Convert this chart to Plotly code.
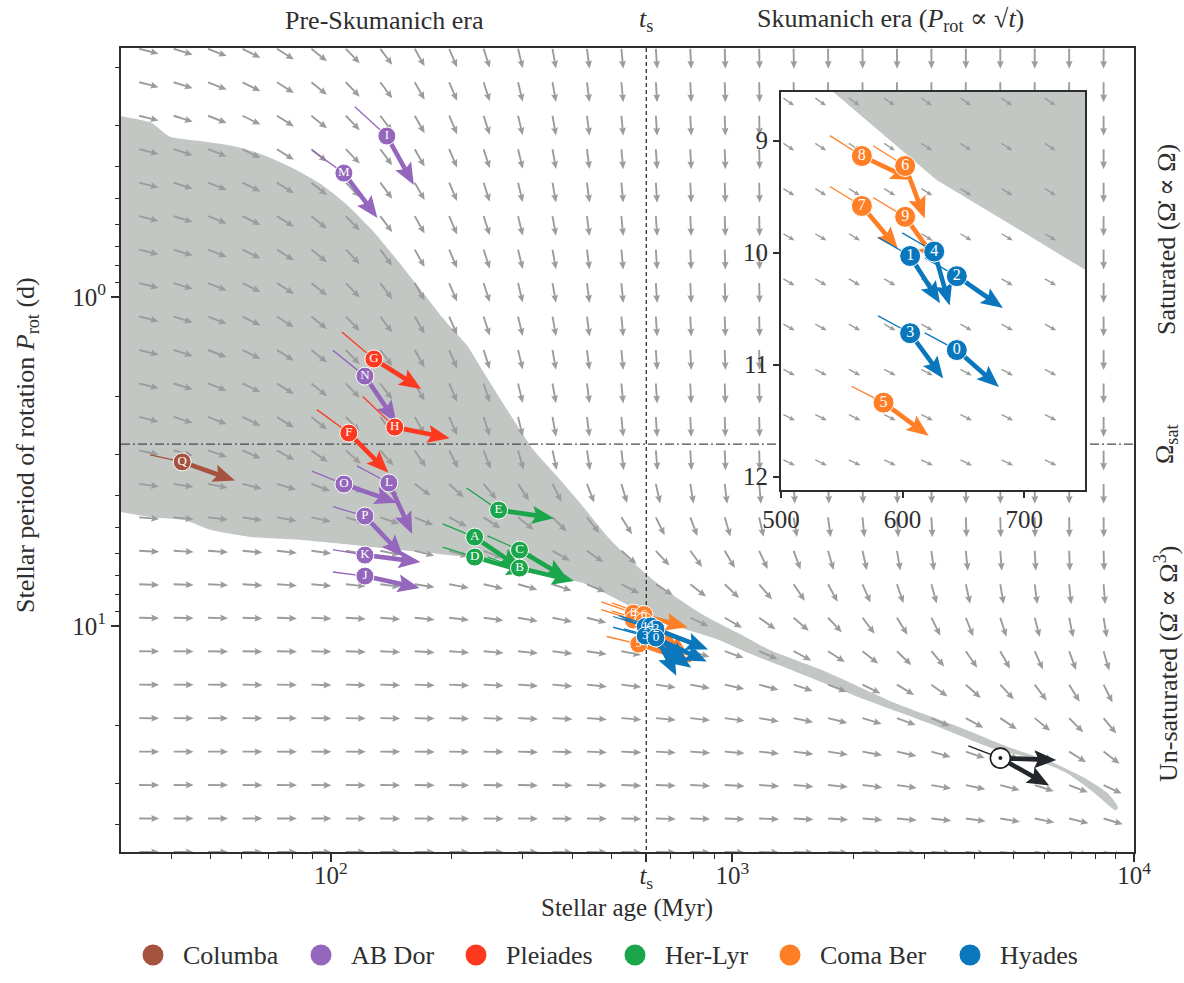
import numpy as np
import plotly.graph_objects as go

# ---------------------------------------------------------------- geometry
FIG_W, FIG_H = 1184, 983
MB_L, MB_R, MB_T, MB_B = 121, 1134, 48, 852      # main plotting area (px)
IB_L, IB_R, IB_T, IB_B = 781, 1085, 92, 490      # inset plotting area (px)

AGE_RANGE = (30.0, 1.0e4)          # Myr (log)
PROT_RANGE = (0.175, 48.6)         # d (log), short periods at the top
INSET_AGE_RANGE = (500.0, 750.0)   # Myr (linear)
INSET_PROT_RANGE = (8.565, 12.12)  # d (linear), short periods at the top

T_S = 610.0        # Myr, onset of the Skumanich era
P_SAT = 2.8        # d, saturation period
K_BRAKE = 0.00808  # 1/Myr, saturated braking constant
TAU_EARLY = 250.0  # Myr, time scale of the extra early braking in the field

# ---------------------------------------------------------------- data
columba_names = ["Q"]
columba_age = [42.6]
columba_prot = [3.17]
columba_dpdt = [0.0320]

abdor_names = ["I", "M", "N", "L", "O", "P", "K", "J"]
abdor_age = [137.8, 107.7, 121.5, 139.4, 107.7, 121.5, 121.5, 121.5]
abdor_prot = [0.324, 0.420, 1.739, 3.675, 3.702, 4.631, 6.084, 7.047]
abdor_dpdt = [0.00522, 0.00636, 0.0257, 0.0701, 0.0148, 0.0492, 0.00752, 0.0155]

pleiades_names = ["G", "H", "F"]
pleiades_age = [127.9, 144.2, 110.8]
pleiades_prot = [1.543, 2.485, 2.591]
pleiades_dpdt = [0.00931, 0.00422, 0.0286]

herlyr_names = ["E", "A", "D", "C", "B"]
herlyr_age = [261.5, 228.0, 228.0, 294.8, 294.8]
herlyr_prot = [4.440, 5.363, 6.170, 5.875, 6.664]
herlyr_dpdt = [0.00302, 0.0196, 0.00955, 0.0145, 0.00654]

comaber_names = ["8", "6", "7", "9", "5"]
comaber_age = [566.5, 602.1, 566.5, 602.1, 584.3]
comaber_prot = [9.137, 9.226, 9.583, 9.680, 11.34]
comaber_dpdt = [0.00514, 0.0291, 0.01293, 0.01521, 0.00797]

hyades_names = ["1", "4", "2", "3", "0"]
hyades_age = [606.2, 626.0, 644.6, 606.2, 644.6]
hyades_prot = [10.03, 9.99, 10.21, 10.72, 10.87]
hyades_dpdt = [0.01721, 0.0380, 0.00753, 0.01488, 0.00951]

sun_age = [4647.0]
sun_prot = [25.19]
sun_dpdt = [0.000233, 0.00373]

# envelope of the rotational sequence (age Myr, period d)
band_fast_age = [30.0, 35.6, 39.6, 47.7, 57.5, 67.1, 79.6, 94.5, 109.0, 125.8, 143.5,
                 164.6, 190.8, 218.9, 239.8, 264.2, 318.6, 365.3, 423.6, 486.9, 555.0,
                 622.5, 726.6, 840.3, 1024.0, 1235.0, 1670.0, 2555.0, 3680.0, 4900.0,
                 6180.0, 7480.0, 8600.0, 9120.0]
band_fast_prot = [0.282, 0.295, 0.325, 0.336, 0.348, 0.368, 0.403, 0.454, 0.521, 0.620,
                  0.750, 0.926, 1.166, 1.41, 1.69, 2.04, 2.90, 3.50, 4.32, 5.32, 6.26,
                  7.10, 8.20, 9.20, 10.45, 11.8, 13.6, 17.2, 20.3, 23.4, 25.8, 28.8,
                  32.2, 35.5]
band_slow_age = [30.0, 35.6, 43.1, 50.3, 63.3, 84.2, 101.6, 149.2, 218.9, 264.2, 291.3,
                 424.0, 543.0, 628.0, 683.0, 748.0, 912.0, 1100.0, 1468.0, 2080.0,
                 3180.0, 4480.0, 5610.0, 6810.0, 7880.0, 9020.0]
band_slow_prot = [4.503, 4.665, 4.762, 5.108, 5.363, 5.477, 5.593, 5.875, 6.170, 6.300,
                  6.757, 7.401, 8.565, 9.35, 9.71, 10.14, 10.95, 12.1, 13.9, 16.5,
                  20.0, 23.6, 25.3, 28.0, 31.8, 36.3]

# grids for the braking-law direction field
field_age = np.geomspace(33.3, 8400.0, 29)
field_prot = np.geomspace(0.176, 48.6, 25)
inset_field_age = np.geomspace(502.0, 717.0, 8)
inset_field_prot = np.linspace(8.62, 11.85, 9)

COL = {
    "Columba": "#a5523f",
    "AB Dor": "#9467bd",
    "Pleiades": "#fd3a1f",
    "Her-Lyr": "#1ba64b",
    "Coma Ber": "#ff7f27",
    "Hyades": "#0a77bd",
}
FIELD_GREY = "#9c9c9c"
BAND_GREY = "#c2c7c4"
INK = "#2e2e2e"
SERIF = "Liberation Serif, DejaVu Serif, serif"


# ---------------------------------------------------------------- axis transforms
def main_px(t, p):
    lx0, lx1 = np.log10(AGE_RANGE)
    ly0, ly1 = np.log10(PROT_RANGE)
    x = MB_L + (np.log10(t) - lx0) / (lx1 - lx0) * (MB_R - MB_L)
    y = MB_T + (np.log10(p) - ly0) / (ly1 - ly0) * (MB_B - MB_T)
    return x, y


def main_data(x, y):
    lx0, lx1 = np.log10(AGE_RANGE)
    ly0, ly1 = np.log10(PROT_RANGE)
    t = 10 ** (lx0 + (x - MB_L) / (MB_R - MB_L) * (lx1 - lx0))
    p = 10 ** (ly0 + (y - MB_T) / (MB_B - MB_T) * (ly1 - ly0))
    return t, p


def inset_px(t, p):
    x = IB_L + (t - INSET_AGE_RANGE[0]) / (INSET_AGE_RANGE[1] - INSET_AGE_RANGE[0]) * (IB_R - IB_L)
    y = IB_T + (p - INSET_PROT_RANGE[0]) / (INSET_PROT_RANGE[1] - INSET_PROT_RANGE[0]) * (IB_B - IB_T)
    return x, y


def inset_data(x, y):
    t = INSET_AGE_RANGE[0] + (x - IB_L) / (IB_R - IB_L) * (INSET_AGE_RANGE[1] - INSET_AGE_RANGE[0])
    p = INSET_PROT_RANGE[0] + (y - IB_T) / (IB_B - IB_T) * (INSET_PROT_RANGE[1] - INSET_PROT_RANGE[0])
    return t, p


AXES = {"main": (main_px, main_data, "x", "y"), "inset": (inset_px, inset_data, "x2", "y2")}


def track_rate(t, p):
    """dP/dt (d/Myr) of the two-regime braking law (Omega-dot ~ Omega, Omega^3)."""
    p = float(p)
    return K_BRAKE * p * min(1.0, (P_SAT / p) ** 2)


def field_rate(t, p):
    """Braking law plus the early-time term that dominates for fast rotators."""
    x = min(1.0, P_SAT / float(p))
    return track_rate(t, p) * (1.0 + (t / TAU_EARLY) * x ** 4)


def screen_direction(to_px, t, p, dpdt):
    h = 1e-3 * t
    x0, y0 = to_px(t, p)
    x1, y1 = to_px(t + h, p + dpdt * h)
    dx, dy = x1 - x0, y1 - y0
    n = np.hypot(dx, dy)
    return x0, y0, dx / n, dy / n


def arrow_outline(x0, y0, ux, uy, length, width, head_w, head_len, head_axis):
    nx, ny = -uy, ux

    def pt(a, b):
        return (x0 + ux * a + nx * b, y0 + uy * a + ny * b)

    return [pt(0, width / 2), pt(length - head_axis, width / 2),
            pt(length - head_len, head_w / 2), pt(length, 0),
            pt(length - head_len, -head_w / 2), pt(length - head_axis, -width / 2),
            pt(0, -width / 2)]


def arrows_trace(axes, ages, prots, rates, color, length, width, head_w, head_len, head_axis):
    to_px, to_data, xa, ya = AXES[axes]
    xs, ys = [], []
    for t, p, r in zip(ages, prots, rates):
        x0, y0, ux, uy = screen_direction(to_px, t, p, r)
        for (px, py) in arrow_outline(x0, y0, ux, uy, length, width, head_w, head_len, head_axis):
            dt, dp = to_data(px, py)
            xs.append(dt)
            ys.append(dp)
        xs.append(None)
        ys.append(None)
    return go.Scatter(x=xs, y=ys, xaxis=xa, yaxis=ya, mode="lines", fill="toself",
                      fillcolor=color, line=dict(width=0, color=color),
                      hoverinfo="skip", showlegend=False)


def track_tails_trace(axes, ages, prots, color, span_px=32.0, width=1.3):
    """Short line behind each star along the braking-law track."""
    to_px, to_data, xa, ya = AXES[axes]
    xs, ys = [], []
    for t, p in zip(ages, prots):
        x0, y0, ux, uy = screen_direction(to_px, t, p, track_rate(t, p))
        s = span_px / max(ux, 1e-6)
        bt, bp = to_data(x0 - ux * s, y0 - uy * s)
        xs += [bt, t, None]
        ys += [bp, p, None]
    return go.Scatter(x=xs, y=ys, xaxis=xa, yaxis=ya, mode="lines",
                      line=dict(color=color, width=width), hoverinfo="skip", showlegend=False)


def field_trace(axes, ages, prots, length, width, head_w, head_len, head_axis):
    gt, gp = np.meshgrid(ages, prots)
    gt, gp = gt.ravel(), gp.ravel()
    rates = [field_rate(t, p) for t, p in zip(gt, gp)]
    return arrows_trace(axes, gt, gp, rates, FIELD_GREY, length, width, head_w, head_len, head_axis)


def star_markers(axes, ages, prots, names, color, size=18, fsize=13):
    _, _, xa, ya = AXES[axes]
    return go.Scatter(x=ages, y=prots, xaxis=xa, yaxis=ya, mode="markers+text",
                      text=names, textposition="middle center",
                      textfont=dict(family=SERIF, size=fsize, color="white"),
                      marker=dict(size=size, color=color, line=dict(color="white", width=1)),
                      hoverinfo="skip", showlegend=False)


BIG = dict(length=56, width=4.6, head_w=18, head_len=22, head_axis=19)

groups = [
    ("Columba", columba_age, columba_prot, columba_dpdt, columba_names),
    ("AB Dor", abdor_age, abdor_prot, abdor_dpdt, abdor_names),
    ("Pleiades", pleiades_age, pleiades_prot, pleiades_dpdt, pleiades_names),
    ("Her-Lyr", herlyr_age, herlyr_prot, herlyr_dpdt, herlyr_names),
    ("Coma Ber", comaber_age, comaber_prot, comaber_dpdt, comaber_names),
    ("Hyades", hyades_age, hyades_prot, hyades_dpdt, hyades_names),
]

fig = go.Figure()

# ---------------------------------------------------------------- main panel
band_age = band_fast_age + band_slow_age[::-1]
band_prot = band_fast_prot + band_slow_prot[::-1]
fig.add_trace(go.Scatter(x=band_age, y=band_prot, mode="lines", fill="toself",
                         fillcolor=BAND_GREY, line=dict(width=0, color=BAND_GREY, shape="spline", smoothing=0.6),
                         hoverinfo="skip", showlegend=False))
fig.add_trace(field_trace("main", field_age, field_prot, 20, 1.9, 7, 8, 7))

fig.add_trace(go.Scatter(x=[T_S, T_S], y=list(PROT_RANGE), mode="lines",
                         line=dict(color=INK, width=1.3, dash="4px,3px"),
                         hoverinfo="skip", showlegend=False))
fig.add_trace(go.Scatter(x=list(AGE_RANGE), y=[P_SAT, P_SAT], mode="lines",
                         line=dict(color="#4a4a4a", width=1.3, dash="9px,3px,2px,3px"),
                         hoverinfo="skip", showlegend=False))

for name, ages, prots, rates, labels in groups:
    fig.add_trace(track_tails_trace("main", ages, prots, COL[name]))
    fig.add_trace(arrows_trace("main", ages, prots, rates, COL[name], **BIG))
    fig.add_trace(star_markers("main", ages, prots, labels, COL[name]))

# the Sun
fig.add_trace(track_tails_trace("main", sun_age, sun_prot, "#1e1e1e"))
fig.add_trace(arrows_trace("main", sun_age * len(sun_dpdt), sun_prot * len(sun_dpdt),
                           sun_dpdt, "#23272b", **BIG))
fig.add_trace(go.Scatter(x=sun_age, y=sun_prot, mode="markers",
                         marker=dict(size=20, color="white", line=dict(color="#1e1e1e", width=1.6)),
                         hoverinfo="skip", showlegend=False))
fig.add_trace(go.Scatter(x=sun_age, y=sun_prot, mode="markers",
                         marker=dict(size=4, color="#1e1e1e"), hoverinfo="skip", showlegend=False))

# ---------------------------------------------------------------- inset panel
fig.add_trace(go.Scatter(x=[INSET_AGE_RANGE[0], INSET_AGE_RANGE[1], INSET_AGE_RANGE[1], INSET_AGE_RANGE[0]],
                         y=[INSET_PROT_RANGE[0], INSET_PROT_RANGE[0], INSET_PROT_RANGE[1], INSET_PROT_RANGE[1]],
                         xaxis="x2", yaxis="y2", mode="lines", fill="toself", fillcolor="white",
                         line=dict(width=0, color="white"), hoverinfo="skip", showlegend=False))
fig.add_trace(go.Scatter(x=band_age, y=band_prot, xaxis="x2", yaxis="y2", mode="lines",
                         fill="toself", fillcolor=BAND_GREY, line=dict(width=0, color=BAND_GREY),
                         hoverinfo="skip", showlegend=False))
fig.add_trace(field_trace("inset", inset_field_age, inset_field_prot, 13, 1.4, 5, 6, 5))
for name, ages, prots, rates, labels in groups[4:]:
    fig.add_trace(track_tails_trace("inset", ages, prots, COL[name]))
    fig.add_trace(arrows_trace("inset", ages, prots, rates, COL[name], **BIG))
    fig.add_trace(star_markers("inset", ages, prots, labels, COL[name], size=21, fsize=16))

# ---------------------------------------------------------------- axes
tickfont = dict(family=SERIF, size=25, color=INK)
frame = dict(showline=True, linewidth=2, linecolor=INK, mirror=True, showgrid=False,
             zeroline=False, ticks="outside", tickcolor=INK, tickwidth=1.5, tickfont=tickfont,
             automargin=False)

minor_age = [40, 50, 60, 70, 80, 90, 200, 300, 400, 500, 700, 800, 900,
             2000, 3000, 4000, 5000, 6000, 7000, 8000, 9000]
minor_prot = [0.2, 0.3, 0.4, 0.5, 0.6, 0.7, 0.8, 0.9, 2, 3, 4, 5, 6, 7, 8, 9, 20, 30, 40]

fig.update_layout(
    width=FIG_W, height=FIG_H,
    margin=dict(l=MB_L, r=FIG_W - MB_R, t=MB_T, b=FIG_H - MB_B),
    paper_bgcolor="white", plot_bgcolor="white", showlegend=False,
    font=dict(family=SERIF, size=25, color=INK),
    xaxis=dict(type="log", range=list(np.log10(AGE_RANGE)), domain=[0, 1], anchor="y",
               tickvals=[100, T_S, 1000, 10000],
               ticktext=["10<sup>2</sup>", "<i>t</i><sub>s</sub>", "10<sup>3</sup>", "10<sup>4</sup>"],
               ticklen=8, ticklabelstandoff=-8,
               minor=dict(tickvals=minor_age, ticks="outside", ticklen=4.5, tickcolor=INK, tickwidth=1.2),
               **frame),
    yaxis=dict(type="log", range=[np.log10(PROT_RANGE[1]), np.log10(PROT_RANGE[0])], domain=[0, 1],
               anchor="x", tickvals=[1, 10], ticktext=["10<sup>0</sup>", "10<sup>1</sup>"],
               ticklen=8,
               minor=dict(tickvals=minor_prot, ticks="outside", ticklen=4.5, tickcolor=INK, tickwidth=1.2),
               **frame),
    xaxis2=dict(range=list(INSET_AGE_RANGE), anchor="y2",
                domain=[(IB_L - MB_L) / (MB_R - MB_L), (IB_R - MB_L) / (MB_R - MB_L)],
                tickvals=[500, 600, 700], ticklen=6, **frame),
    yaxis2=dict(range=[INSET_PROT_RANGE[1], INSET_PROT_RANGE[0]], anchor="x2",
                domain=[(MB_B - IB_B) / (MB_B - MB_T), (MB_B - IB_T) / (MB_B - MB_T)],
                tickvals=[9, 10, 11, 12], ticklen=6, **frame),
)


def px_to_paper(x, y):
    return (x - MB_L) / (MB_R - MB_L), (MB_B - y) / (MB_B - MB_T)


def label(text, x, y, angle=0, size=26, anchor="center"):
    px, py = px_to_paper(x, y)
    fig.add_annotation(text=text, x=px, y=py, xref="paper", yref="paper", showarrow=False,
                       textangle=angle, xanchor=anchor, yanchor="middle",
                       font=dict(family=SERIF, size=size, color=INK))


label("Stellar age (Myr)", 627, 908, size=25)
label("Stellar period of rotation <i>P</i><sub>rot</sub> (d)", 27, 445, angle=-90, size=26)
label("Pre-Skumanich era", 384, 20)
label("<i>t</i><sub>s</sub>", 646, 20)
label("Skumanich era (<i>P</i><sub>rot</sub> ∝ √<i>t</i>)", 890, 20)
label("Saturated (Ω̇ ∝ Ω)", 1166, 240, angle=-90)
label("Ω<sub>sat</sub>", 1166, 444, angle=-90)
label("Un-saturated (Ω̇ ∝ Ω<sup>3</sup>)", 1166, 664, angle=-90)

# ---------------------------------------------------------------- key
legend_x = [153, 321, 476, 635, 790, 970]
legend_y = 955
for (name, *_), cx in zip(groups, legend_x):
    x0, y0 = px_to_paper(cx - 10.5, legend_y + 10.5)
    x1, y1 = px_to_paper(cx + 10.5, legend_y - 10.5)
    fig.add_shape(type="circle", xref="paper", yref="paper", x0=x0, y0=y0, x1=x1, y1=y1,
                  fillcolor=COL[name], line=dict(width=0))
    label(name, cx + 28, legend_y, size=26, anchor="left")

fig.write_html("out.html")
